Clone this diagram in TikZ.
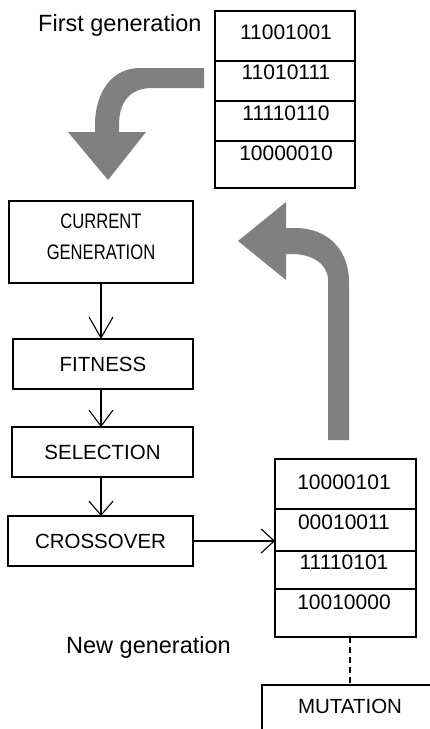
\documentclass[tikz,border=0pt]{standalone}
\usepackage{fontspec}
\setmainfont{Liberation Sans}
\newfontfamily\narrowfont[FakeStretch=0.79]{Liberation Sans}
\usetikzlibrary{arrows.meta}
\definecolor{arrowgray}{RGB}{128,128,128}
\begin{document}
\begin{tikzpicture}[x=1pt,y=-1pt,
  boxline/.style={draw=black,line width=1.3pt,rectangle,inner sep=0pt,outer sep=0pt},
  txt/.style={font=\fontsize{20.5}{24}\selectfont,inner sep=0pt},
  bits/.style={font=\fontsize{21}{24}\selectfont,inner sep=0pt},
  lbl/.style={font=\fontsize{23.5}{28}\selectfont,inner sep=0pt},
  narrowtxt/.style={font=\narrowfont\fontsize{21}{25}\selectfont,inner sep=0pt},
  flow/.style={line width=1.1pt,-{Straight Barb[length=#1,width=24pt]}},
  flow/.default=16pt,
  bigarrow/.style={fill=arrowgray,draw=none}]
\useasboundingbox (0,0) rectangle (430,729);
\clip (0,0) rectangle (430,729);

% big gray arrows
\fill[bigarrow] (204,68) -- (140,68) .. controls (112,68) and (95,92) .. (95,125) -- (95,132) -- (68,132) -- (108,180) -- (146,132) -- (119,132) -- (119,125) .. controls (119,102) and (130,88) .. (152,88) -- (204,88) -- cycle;
\fill[bigarrow] (328,440) -- (328,280) .. controls (328,264) and (312,254) .. (292,254) -- (286,254) -- (286,280) -- (238,241) -- (286,202) -- (286,228) -- (295,228) .. controls (328,228) and (349,250) .. (349,282) -- (349,440) -- cycle;

% first generation
\node[lbl,anchor=base west] (firstlbl) at (38,31.5) {First generation};
\node[boxline,minimum width=140pt,minimum height=50pt,anchor=north west] (g1a) at (215,11) {};
\node[boxline,minimum width=140pt,minimum height=40pt,anchor=north west] (g1b) at (g1a.south west) {};
\node[boxline,minimum width=140pt,minimum height=40pt,anchor=north west] (g1c) at (g1b.south west) {};
\node[boxline,minimum width=140pt,minimum height=47pt,anchor=north west] (g1d) at (g1c.south west) {};
\node[bits] (t1a) at (286,32) {11001001};
\node[bits] (t1b) at (286,72) {11010111};
\node[bits] (t1c) at (286,113) {11110110};
\node[bits] (t1d) at (286,153) {10000010};

% flow boxes
\node[boxline,minimum width=184pt,minimum height=82pt,anchor=north west] (cur) at (9,201) {};
\node[narrowtxt,anchor=base] (cur1) at (101,228) {CURRENT};
\node[narrowtxt,anchor=base] (cur2) at (101,259) {GENERATION};
\node[boxline,txt,minimum width=180pt,minimum height=50pt] (fit) at (103,364) {FITNESS};
\node[boxline,txt,minimum width=181pt,minimum height=50pt] (sel) at (102.5,452) {SELECTION};
\node[boxline,txt,minimum width=185pt,minimum height=50pt] (cross) at (100.5,541) {CROSSOVER};

% new generation
\node[boxline,minimum width=141pt,minimum height=50pt,anchor=north west] (g2a) at (275,459) {};
\node[boxline,minimum width=141pt,minimum height=42pt,anchor=north west] (g2b) at (g2a.south west) {};
\node[boxline,minimum width=141pt,minimum height=38pt,anchor=north west] (g2c) at (g2b.south west) {};
\node[boxline,minimum width=141pt,minimum height=48pt,anchor=north west] (g2d) at (g2c.south west) {};
\node[bits] (t2a) at (344,482) {10000101};
\node[bits] (t2b) at (344,522) {00010011};
\node[bits] (t2c) at (344,562) {11110101};
\node[bits] (t2d) at (344,602) {10010000};
\node[lbl,anchor=base west] (newlbl) at (66,653) {New generation};

% mutation
\node[boxline,minimum width=176pt,minimum height=100pt,anchor=north west] (mut) at (262,685) {};
\node[txt] (mutt) at (350,706) {MUTATION};

% connectors
\draw[flow=21pt] (cur.south) -- (cur.south |- fit.north);
\draw[flow=16pt] (cur.south |- fit.south) -- (cur.south |- sel.north);
\draw[flow=14pt] (cur.south |- sel.south) -- (cur.south |- cross.north);
\draw[flow=13pt] (cross.east) -- (cross.east -| g2b.west);
\draw[line width=1.3pt,dash pattern=on 6pt off 4pt] (mut.north |- g2d.south) -- (mut.north);
\end{tikzpicture}
\end{document}
